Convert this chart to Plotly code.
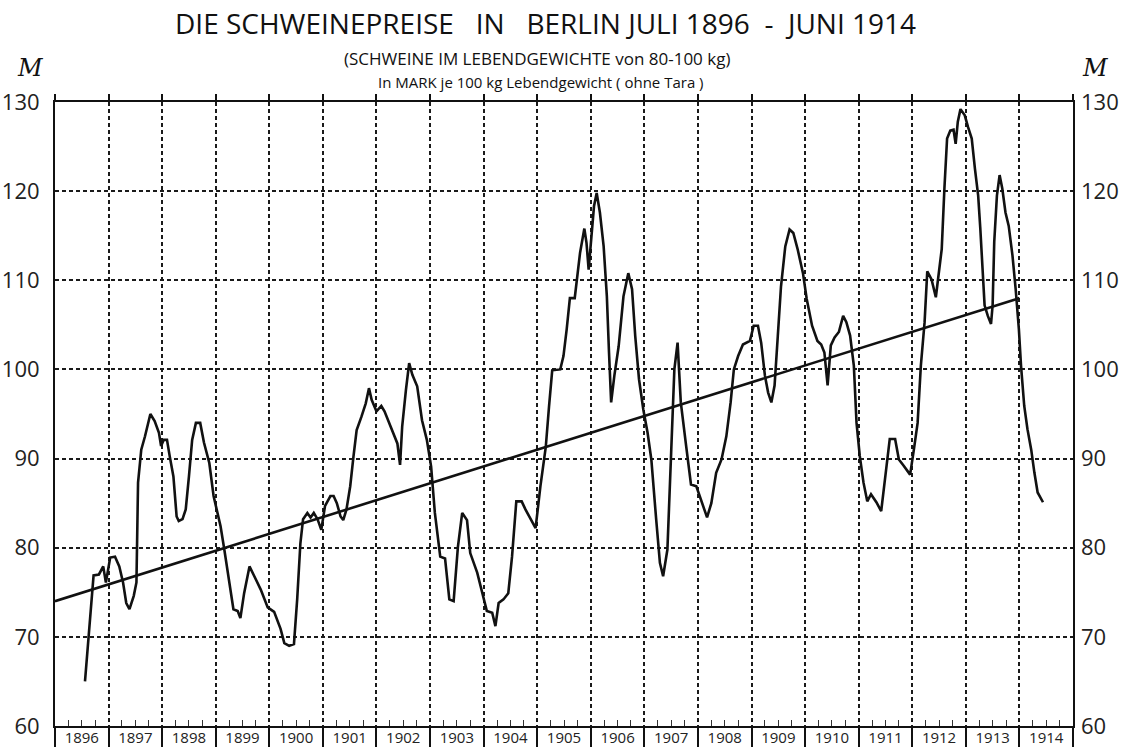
import plotly.graph_objects as go

# ---- data -------------------------------------------------------------
price_dates = [
    1896.56, 1896.72, 1896.82, 1896.90, 1896.95, 1897.03, 1897.12, 1897.20, 1897.27, 1897.33,
    1897.39, 1897.47, 1897.52, 1897.55, 1897.61, 1897.68, 1897.78, 1897.86, 1897.94, 1897.98,
    1898.03, 1898.09, 1898.14, 1898.21, 1898.27, 1898.31, 1898.38, 1898.44, 1898.50, 1898.56,
    1898.63, 1898.71, 1898.78, 1898.88, 1898.96, 1899.03, 1899.09, 1899.16, 1899.25, 1899.33,
    1899.41, 1899.46, 1899.53, 1899.63, 1899.72, 1899.84, 1899.97, 1900.09, 1900.21, 1900.28,
    1900.37, 1900.46, 1900.52, 1900.58, 1900.63, 1900.71, 1900.77, 1900.83, 1900.90, 1900.97,
    1901.04, 1901.14, 1901.20, 1901.26, 1901.33, 1901.38, 1901.44, 1901.51, 1901.57, 1901.63,
    1901.72, 1901.80, 1901.86, 1901.91, 1902.00, 1902.09, 1902.15, 1902.24, 1902.33, 1902.39,
    1902.44, 1902.48, 1902.55, 1902.61, 1902.67, 1902.76, 1902.85, 1902.94, 1903.02, 1903.09,
    1903.19, 1903.28, 1903.36, 1903.44, 1903.52, 1903.60, 1903.69, 1903.75, 1903.88, 1903.97,
    1904.06, 1904.16, 1904.22, 1904.28, 1904.37, 1904.46, 1904.53, 1904.61, 1904.71, 1904.78,
    1904.88, 1904.97, 1905.06, 1905.16, 1905.22, 1905.28, 1905.43, 1905.49, 1905.55, 1905.61,
    1905.70, 1905.75, 1905.80, 1905.88, 1905.92, 1905.96, 1906.01, 1906.06, 1906.11, 1906.17,
    1906.24, 1906.30, 1906.34, 1906.38, 1906.44, 1906.52, 1906.61, 1906.70, 1906.77, 1906.83,
    1906.90, 1906.98, 1907.06, 1907.13, 1907.22, 1907.29, 1907.35, 1907.43, 1907.50, 1907.56,
    1907.62, 1907.68, 1907.78, 1907.87, 1907.97, 1908.06, 1908.17, 1908.25, 1908.34, 1908.44,
    1908.53, 1908.61, 1908.67, 1908.75, 1908.84, 1908.97, 1909.04, 1909.12, 1909.18, 1909.25,
    1909.31, 1909.37, 1909.43, 1909.49, 1909.55, 1909.63, 1909.71, 1909.78, 1909.86, 1909.96,
    1910.03, 1910.13, 1910.23, 1910.30, 1910.36, 1910.42, 1910.48, 1910.55, 1910.63, 1910.71,
    1910.77, 1910.84, 1910.91, 1910.96, 1911.02, 1911.09, 1911.16, 1911.23, 1911.33, 1911.42,
    1911.51, 1911.58, 1911.68, 1911.75, 1911.84, 1911.96, 1912.03, 1912.10, 1912.16, 1912.23,
    1912.28, 1912.36, 1912.44, 1912.49, 1912.55, 1912.60, 1912.65, 1912.71, 1912.77, 1912.81,
    1912.85, 1912.90, 1912.98, 1913.04, 1913.11, 1913.17, 1913.23, 1913.27, 1913.31, 1913.35,
    1913.41, 1913.47, 1913.50, 1913.53, 1913.58, 1913.63, 1913.68, 1913.74, 1913.80, 1913.87,
    1913.93, 1913.99, 1914.03, 1914.09, 1914.15, 1914.22, 1914.28, 1914.34, 1914.44,
]
price_values = [
    65.0, 76.9, 77.0, 77.9, 76.1, 78.9, 79.0, 77.9, 76.1, 73.8,
    73.1, 74.6, 76.1, 87.3, 91.0, 92.5, 95.0, 94.2, 92.9, 91.4,
    92.1, 92.1, 90.3, 88.0, 83.5, 83.0, 83.2, 84.3, 88.0, 92.1,
    94.0, 94.0, 91.8, 89.5, 85.8, 83.9, 82.4, 79.8, 76.1, 73.1,
    72.9, 72.1, 74.9, 77.9, 76.8, 75.3, 73.3, 72.8, 70.9, 69.3,
    69.0, 69.2, 74.2, 80.5, 83.2, 83.9, 83.4, 83.9, 83.2, 82.0,
    84.7, 85.8, 85.8, 85.0, 83.5, 83.1, 84.3, 86.9, 90.2, 93.2,
    94.7, 96.2, 97.9, 96.6, 95.3, 95.9, 95.3, 94.0, 92.6, 91.7,
    89.3, 93.6, 97.7, 100.7, 99.4, 98.1, 94.3, 92.1, 89.1, 83.9,
    79.0, 78.8, 74.2, 74.0, 80.1, 83.9, 83.1, 79.4, 77.2, 74.9,
    72.9, 72.7, 71.2, 73.8, 74.2, 74.9, 79.0, 85.2, 85.2, 84.3,
    83.1, 82.2, 86.9, 91.3, 95.8, 99.9, 100.0, 101.5, 104.5, 108.0,
    108.0, 110.5, 113.1, 115.8, 114.2, 111.2, 115.0, 118.3, 119.8, 117.6,
    113.8, 108.2, 101.9, 96.3, 99.3, 102.6, 108.2, 110.8, 109.0, 103.7,
    98.9, 95.5, 92.9, 89.9, 83.2, 78.3, 76.8, 79.8, 90.7, 100.0,
    103.0, 96.3, 91.4, 87.1, 86.9, 85.4, 83.4, 85.0, 88.4, 89.9,
    92.5, 96.3, 100.0, 101.5, 102.8, 103.2, 104.9, 104.9, 103.0, 99.3,
    97.4, 96.3, 98.2, 103.7, 109.3, 113.8, 115.7, 115.3, 113.5, 110.8,
    107.9, 104.9, 103.2, 102.8, 101.9, 98.2, 102.7, 103.6, 104.2, 106.0,
    105.3, 103.8, 100.4, 94.0, 90.3, 87.3, 85.2, 86.0, 85.1, 84.1,
    88.4, 92.2, 92.2, 89.9, 89.2, 88.2, 91.0, 94.0, 100.4, 105.3,
    111.0, 110.1, 108.1, 110.5, 113.5, 120.3, 125.9, 126.8, 126.9, 125.3,
    127.8, 129.2, 128.5, 127.2, 125.9, 122.5, 119.5, 115.8, 110.9, 107.2,
    106.0, 105.1, 107.2, 114.3, 119.5, 121.8, 120.3, 117.6, 116.1, 112.8,
    109.0, 104.5, 100.4, 95.9, 93.3, 91.0, 88.4, 86.2, 85.1,
]
trend_years = [1896.0, 1914.0]
trend_values = [74.0, 108.0]

year_labels = ["1896", "1897", "1898", "1899", "1900", "1901", "1902", "1903", "1904", "1905",
               "1906", "1907", "1908", "1909", "1910", "1911", "1912", "1913", "1914"]
y_ticks = [60, 70, 80, 90, 100, 110, 120, 130]

title_text = "DIE SCHWEINEPREISE   IN   BERLIN JULI 1896  -  JUNI 1914"
subtitle_1 = "(SCHWEINE IM LEBENDGEWICHTE von 80-100 kg)"
subtitle_2 = "In MARK je 100 kg Lebendgewicht ( ohne Tara )"
unit_label = "M"

# ---- derived axis helpers ---------------------------------------------
first_year = int(year_labels[0])
year_bounds = [first_year + i for i in range(len(year_labels) + 1)]
year_mids = [first_year + i + 0.5 for i in range(len(year_labels))]
quarter_ticks = [first_year + i + q for i in range(len(year_labels)) for q in (0.25, 0.5, 0.75)]
x_range = [year_bounds[0], year_bounds[-1]]
y_range = [y_ticks[0], y_ticks[-1]]

FONT = "Open Sans, Liberation Sans, sans-serif"
INK = "#111111"

fig = go.Figure()
fig.add_trace(go.Scatter(x=trend_years, y=trend_values, mode="lines",
                         line=dict(color=INK, width=2.6), hoverinfo="skip", showlegend=False))
fig.add_trace(go.Scatter(x=price_dates, y=price_values, mode="lines",
                         line=dict(color=INK, width=2.6), showlegend=False))
# invisible helpers so the extra axes get drawn
fig.add_trace(go.Scatter(x=x_range, y=y_range, mode="lines", line=dict(width=0),
                         xaxis="x2", yaxis="y2", hoverinfo="skip", showlegend=False))
fig.add_trace(go.Scatter(x=x_range, y=y_range, mode="lines", line=dict(width=0),
                         xaxis="x3", yaxis="y", hoverinfo="skip", showlegend=False))

grid = dict(showgrid=True, gridcolor="#1a1a1a", gridwidth=1.5, griddash="4px,3px")

fig.update_layout(
    width=1124, height=747,
    margin=dict(l=55, r=51, t=102, b=21, autoexpand=False),
    paper_bgcolor="white", plot_bgcolor="white",
    font=dict(family=FONT, color=INK),
    xaxis=dict(range=x_range, tickmode="array", tickvals=year_bounds, showticklabels=False,
               ticks="outside", ticklen=21, tickwidth=2, tickcolor=INK, automargin=False,
               showline=True, linewidth=2, linecolor=INK, mirror=True, zeroline=False,
               minor=dict(tickmode="array", tickvals=quarter_ticks, ticks="inside",
                          ticklen=6, tickwidth=1, tickcolor="#333333", showgrid=False),
               **grid),
    xaxis2=dict(range=x_range, overlaying="x", anchor="y", side="bottom", automargin=False,
                tickmode="array", tickvals=year_mids, ticktext=year_labels,
                ticks="", showgrid=False, showline=False, zeroline=False,
                tickfont=dict(size=15, color="#222222", family=FONT), ticklabelstandoff=1),
    xaxis3=dict(range=x_range, overlaying="x", anchor="y", side="top", automargin=False,
                tickmode="array", tickvals=year_bounds, showticklabels=False,
                ticks="outside", ticklen=7, tickwidth=2, tickcolor=INK,
                showgrid=False, showline=False, zeroline=False),
    yaxis=dict(range=y_range, tickmode="array", tickvals=y_ticks, ticks="", automargin=False,
               showline=True, linewidth=2, linecolor=INK, mirror=True, zeroline=False,
               tickfont=dict(size=22, color="#222222", family=FONT),
               ticklabelstandoff=9, **grid),
    yaxis2=dict(range=y_range, overlaying="y", side="right", anchor="x", automargin=False,
                tickmode="array", tickvals=y_ticks, ticks="", showgrid=False,
                showline=False, zeroline=False,
                tickfont=dict(size=22, color="#222222", family=FONT),
                ticklabelstandoff=7),
)

plot_h = 747 - 102 - 21
plot_w = 1124 - 55 - 51


def py(pix):
    return (747 - 21 - pix) / plot_h


def px(pix):
    return (pix - 55) / plot_w


ann = [
    dict(text=title_text, x=px(545), y=py(23), size=28),
    dict(text=subtitle_1, x=px(537), y=py(58), size=17),
    dict(text=subtitle_2, x=px(541), y=py(82), size=15),
]
for a in ann:
    fig.add_annotation(text=a["text"], x=a["x"], y=a["y"], xref="paper", yref="paper",
                       xanchor="center", yanchor="middle", showarrow=False,
                       font=dict(size=a["size"], family=FONT, color=INK))
for xpix in (30, 1095):
    fig.add_annotation(text="<i>" + unit_label + "</i>", x=px(xpix), y=py(68),
                       xref="paper", yref="paper", xanchor="center", yanchor="middle",
                       showarrow=False,
                       font=dict(size=24, family="DejaVu Serif, serif", color=INK))

fig.write_html("out.html", config={"displayModeBar": False},
               post_script="document.body.style.margin='0';document.body.style.padding='0';")
